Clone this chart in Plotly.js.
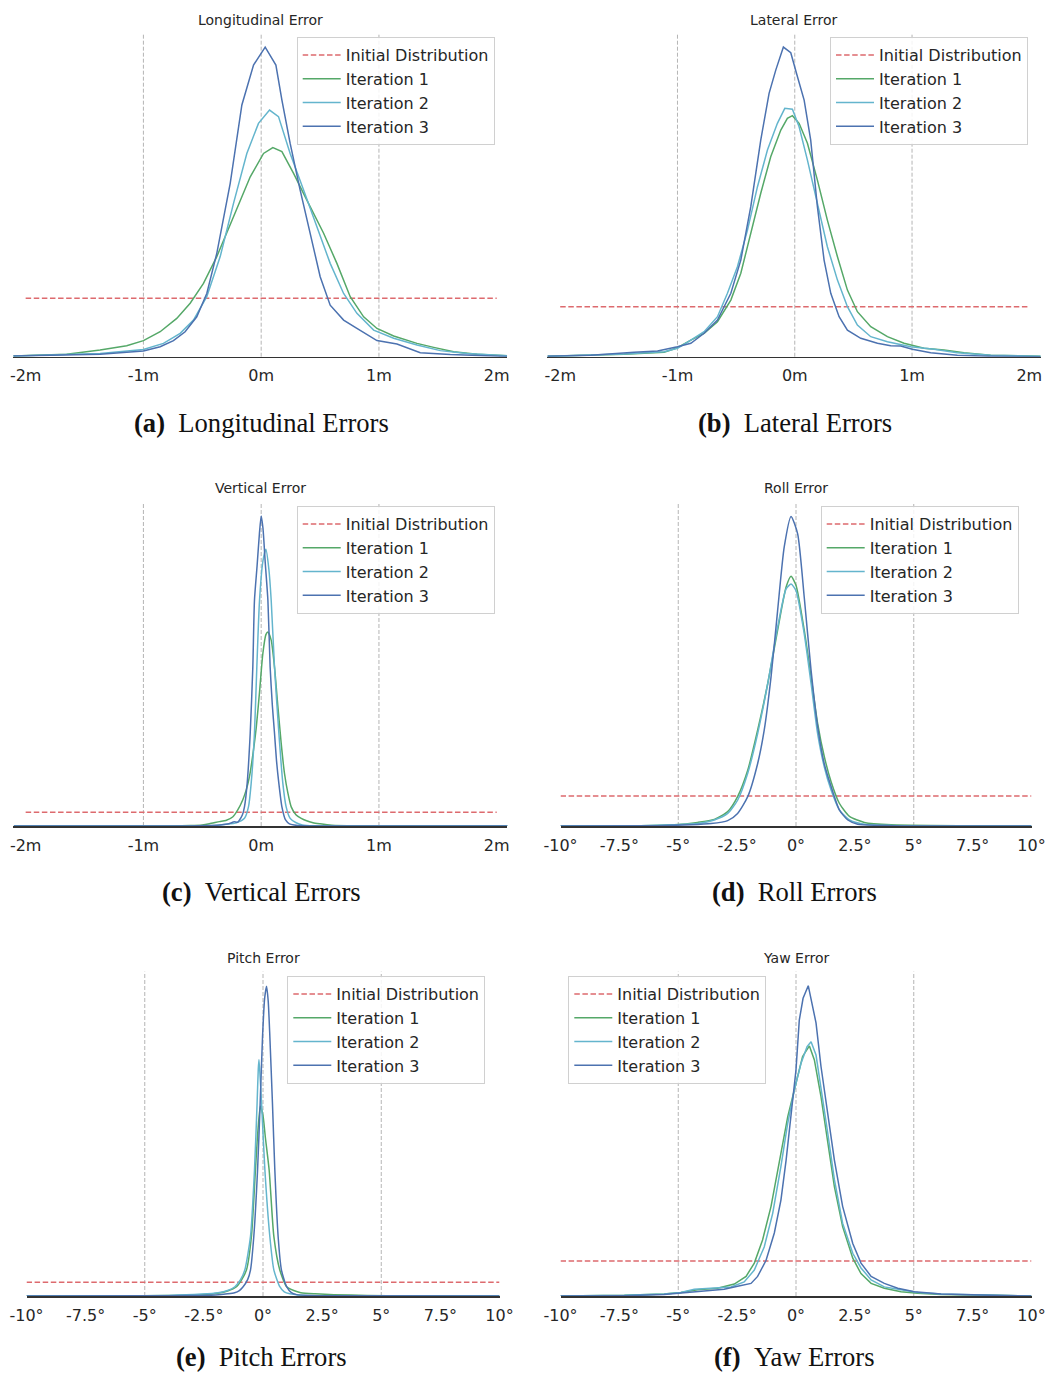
<!DOCTYPE html>
<html>
<head>
<meta charset="utf-8">
<script src="https://cdn.plot.ly/plotly-3.0.1.min.js"></script>
<style>
  html, body { margin: 0; padding: 0; background: #ffffff; }
  #chart { width: 1048px; height: 1374px; }
</style>
</head>
<body>
<div id="chart"></div>
<script>
// ---- tick labels ----
const tickValsM = [-2, -1, 0, 1, 2];
const tickTextM = ['-2m', '-1m', '0m', '1m', '2m'];
const tickValsDeg = [-10, -7.5, -5, -2.5, 0, 2.5, 5, 7.5, 10];
const tickTextDeg = ['-10°', '-7.5°', '-5°', '-2.5°', '0°', '2.5°', '5°', '7.5°', '10°'];
const guideM = [-1, 0, 1];
const guideDeg = [-5, 0, 5];

const seriesNames = ['Initial Distribution', 'Iteration 1', 'Iteration 2', 'Iteration 3'];

// Initial (uniform) distribution densities
const initXm = [-2, 2];
const initYm = [0.25, 0.25];
const initXdeg = [-10, 10];
const initYdeg = [0.05, 0.05];

// ---- Longitudinal error densities ----
const lonX1 = [-2.105, -1.652, -1.368, -1.142, -1.0, -0.858, -0.717, -0.603, -0.49, -0.377, -0.235, -0.093, 0.02, 0.099, 0.176, 0.275, 0.388, 0.53, 0.643, 0.756, 0.87, 0.983, 1.125, 1.323, 1.465, 1.635, 1.833, 2.088];
const lonY1 = [0.003, 0.011, 0.029, 0.047, 0.069, 0.107, 0.164, 0.229, 0.314, 0.429, 0.6, 0.771, 0.871, 0.896, 0.879, 0.786, 0.671, 0.529, 0.4, 0.257, 0.171, 0.121, 0.089, 0.057, 0.04, 0.021, 0.011, 0.004];
const lonX2 = [-2.105, -1.368, -1.0, -0.83, -0.688, -0.575, -0.462, -0.348, -0.235, -0.122, -0.023, 0.071, 0.147, 0.246, 0.36, 0.473, 0.586, 0.70, 0.813, 0.955, 1.125, 1.323, 1.521, 1.748, 2.088];
const lonY2 = [0.003, 0.014, 0.031, 0.057, 0.1, 0.157, 0.257, 0.429, 0.657, 0.871, 1.0, 1.057, 1.029, 0.871, 0.714, 0.557, 0.4, 0.271, 0.186, 0.114, 0.079, 0.05, 0.026, 0.014, 0.004];
const lonX3 = [-2.105, -1.652, -1.368, -1.0, -0.858, -0.745, -0.646, -0.547, -0.462, -0.377, -0.263, -0.164, -0.065, 0.034, 0.125, 0.176, 0.246, 0.331, 0.416, 0.501, 0.586, 0.70, 0.813, 0.983, 1.153, 1.351, 1.606, 2.088];
const lonY3 = [0.003, 0.007, 0.011, 0.024, 0.043, 0.069, 0.107, 0.171, 0.271, 0.443, 0.743, 1.079, 1.25, 1.327, 1.25, 1.1, 0.914, 0.714, 0.529, 0.343, 0.221, 0.157, 0.121, 0.069, 0.054, 0.017, 0.009, 0.001];

// ---- Lateral error densities ----
const latX1 = [-2.108, -1.455, -1.114, -1.0, -0.886, -0.773, -0.659, -0.545, -0.46, -0.375, -0.29, -0.205, -0.119, -0.063, -0.02, 0.037, 0.108, 0.193, 0.278, 0.364, 0.449, 0.534, 0.648, 0.79, 0.932, 1.102, 1.273, 1.443, 1.67, 2.097];
const latY1 = [0.002, 0.012, 0.022, 0.045, 0.083, 0.117, 0.175, 0.283, 0.417, 0.617, 0.817, 1.0, 1.133, 1.192, 1.205, 1.167, 1.067, 0.883, 0.683, 0.5, 0.333, 0.225, 0.15, 0.1, 0.067, 0.042, 0.033, 0.02, 0.007, 0.002];
const latX2 = [-2.108, -1.455, -1.114, -1.0, -0.886, -0.773, -0.659, -0.574, -0.489, -0.403, -0.318, -0.233, -0.148, -0.085, -0.02, 0.037, 0.108, 0.193, 0.278, 0.364, 0.449, 0.534, 0.648, 0.79, 0.989, 1.188, 1.386, 1.67, 2.097];
const latY2 = [0.002, 0.013, 0.025, 0.042, 0.083, 0.125, 0.2, 0.317, 0.45, 0.633, 0.85, 1.033, 1.167, 1.242, 1.237, 1.15, 0.983, 0.767, 0.55, 0.383, 0.25, 0.158, 0.1, 0.075, 0.05, 0.037, 0.02, 0.007, 0.002];
const latX3 = [-2.108, -1.739, -1.369, -1.17, -1.0, -0.886, -0.773, -0.659, -0.545, -0.46, -0.375, -0.29, -0.219, -0.162, -0.097, -0.034, 0.023, 0.08, 0.136, 0.193, 0.25, 0.307, 0.378, 0.449, 0.563, 0.705, 0.818, 0.903, 1.003, 1.159, 1.386, 1.67, 2.097];
const latY3 = [0.002, 0.007, 0.022, 0.028, 0.05, 0.067, 0.117, 0.183, 0.317, 0.483, 0.75, 1.083, 1.317, 1.433, 1.548, 1.52, 1.4, 1.283, 1.083, 0.75, 0.483, 0.317, 0.2, 0.133, 0.092, 0.067, 0.055, 0.053, 0.037, 0.02, 0.007, 0.002, 0.0];

// ---- Vertical error densities ----
const verX1 = [-2.1, -0.8, -0.6, -0.5, -0.44, -0.354, -0.3, -0.24, -0.2, -0.156, -0.127, -0.1, -0.071, -0.042, -0.014, 0.014, 0.04, 0.057, 0.085, 0.113, 0.142, 0.17, 0.198, 0.227, 0.255, 0.297, 0.34, 0.38, 0.44, 0.5, 0.6, 0.8, 2.1];
const verY1 = [0, 0.002, 0.008, 0.02, 0.04, 0.08, 0.1, 0.17, 0.29, 0.48, 0.66, 0.9, 1.3, 1.8, 2.45, 3.15, 3.5, 3.55, 3.4, 2.91, 2.18, 1.51, 0.96, 0.6, 0.35, 0.2, 0.14, 0.1, 0.06, 0.04, 0.015, 0.004, 0];
const verX2 = [-2.1, -0.6, -0.4, -0.3, -0.21, -0.142, -0.108, -0.085, -0.057, -0.037, -0.014, 0.015, 0.04, 0.065, 0.085, 0.113, 0.15, 0.184, 0.212, 0.246, 0.297, 0.35, 0.45, 2.1];
const verY2 = [0, 0.002, 0.01, 0.03, 0.06, 0.14, 0.35, 0.78, 1.7, 2.91, 4.13, 4.85, 5.06, 4.7, 4.13, 2.91, 1.7, 0.78, 0.35, 0.14, 0.06, 0.02, 0.005, 0];
const verX3 = [-2.1, -0.6, -0.45, -0.35, -0.3, -0.25, -0.23, -0.2, -0.184, -0.16, -0.142, -0.119, -0.093, -0.071, -0.057, -0.035, -0.015, 0.0, 0.015, 0.035, 0.057, 0.076, 0.095, 0.113, 0.13, 0.15, 0.176, 0.207, 0.24, 0.28, 0.35, 0.6, 2.1];
const verY3 = [0, 0.002, 0.01, 0.02, 0.03, 0.06, 0.08, 0.07, 0.11, 0.2, 0.35, 0.78, 1.7, 2.91, 4.13, 4.75, 5.35, 5.67, 5.45, 4.8, 4.13, 2.91, 2.2, 1.7, 1.2, 0.78, 0.35, 0.11, 0.04, 0.02, 0.005, 0, 0];

// ---- Roll error densities ----
const rolX1 = [-10, -6.59, -5.17, -4.18, -3.47, -2.9, -2.48, -2.05, -1.63, -1.2, -0.78, -0.42, -0.21, 0.0, 0.35, 0.64, 0.92, 1.2, 1.49, 1.84, 2.27, 2.9, 4.04, 10];
const rolY1 = [0, 0.0006, 0.002, 0.006, 0.011, 0.024, 0.049, 0.093, 0.16, 0.238, 0.327, 0.399, 0.417, 0.402, 0.327, 0.249, 0.171, 0.116, 0.074, 0.038, 0.016, 0.006, 0.002, 0];
const rolX2 = [-10, -6.59, -5.17, -4.18, -3.47, -2.9, -2.48, -2.05, -1.63, -1.2, -0.78, -0.42, -0.21, 0.0, 0.35, 0.64, 0.92, 1.2, 1.49, 1.84, 2.27, 2.9, 4.04, 10];
const rolY2 = [0, 0.0006, 0.002, 0.004, 0.01, 0.021, 0.043, 0.088, 0.154, 0.238, 0.332, 0.396, 0.404, 0.393, 0.321, 0.238, 0.154, 0.099, 0.06, 0.027, 0.01, 0.003, 0.001, 0];
const rolX3 = [-10, -5.88, -4.46, -3.61, -2.9, -2.48, -2.05, -1.63, -1.35, -1.06, -0.78, -0.5, -0.21, 0.07, 0.35, 0.64, 0.92, 1.2, 1.49, 1.84, 2.2, 2.62, 4.04, 10];
const rolY3 = [0, 0.0006, 0.002, 0.004, 0.009, 0.021, 0.049, 0.104, 0.16, 0.249, 0.36, 0.466, 0.517, 0.488, 0.382, 0.26, 0.166, 0.104, 0.066, 0.027, 0.01, 0.003, 0.0006, 0];

// ---- Pitch error densities ----
const pitX1 = [-10, -6, -4, -2.6, -1.9, -1.5, -1.12, -0.9, -0.7, -0.49, -0.32, -0.22, -0.11, 0.0, 0.1, 0.26, 0.46, 0.71, 1.0, 1.3, 1.6, 2.2, 3, 4.4, 6, 10];
const pitY1 = [0, 0.0005, 0.002, 0.005, 0.01, 0.018, 0.034, 0.06, 0.095, 0.217, 0.461, 0.6, 0.695, 0.66, 0.58, 0.461, 0.217, 0.095, 0.034, 0.02, 0.012, 0.008, 0.005, 0.002, 0.0005, 0];
const pitX2 = [-10, -6, -4, -2.6, -1.9, -1.5, -1.19, -0.95, -0.77, -0.53, -0.36, -0.25, -0.2, -0.17, -0.12, -0.06, 0.08, 0.29, 0.46, 0.71, 0.9, 1.14, 1.5, 2.5, 10];
const pitY2 = [0, 0.0005, 0.002, 0.007, 0.012, 0.02, 0.034, 0.06, 0.095, 0.217, 0.461, 0.705, 0.83, 0.866, 0.8, 0.705, 0.461, 0.217, 0.095, 0.034, 0.015, 0.008, 0.004, 0.001, 0];
const pitX3 = [-10, -5, -3, -2, -1.5, -1.2, -1.0, -0.84, -0.65, -0.53, -0.39, -0.23, -0.12, -0.02, 0.07, 0.15, 0.22, 0.29, 0.4, 0.5, 0.64, 0.78, 1.0, 1.2, 1.42, 2, 3, 10];
const pitY3 = [0, 0.0005, 0.002, 0.004, 0.008, 0.012, 0.02, 0.034, 0.06, 0.095, 0.217, 0.461, 0.705, 0.949, 1.09, 1.134, 1.08, 0.949, 0.705, 0.461, 0.217, 0.095, 0.034, 0.012, 0.005, 0.002, 0.0005, 0];

// ---- Yaw error densities ----
const yawX1 = [-10, -7.29, -5.6, -4.89, -4.18, -3.33, -2.62, -2.12, -1.77, -1.42, -1.06, -0.71, -0.35, 0.0, 0.28, 0.57, 0.78, 1.06, 1.35, 1.63, 1.98, 2.41, 2.76, 3.19, 3.75, 4.46, 5.17, 6.16, 8.29, 10];
const yawY1 = [0, 0.001, 0.003, 0.005, 0.009, 0.011, 0.017, 0.028, 0.047, 0.08, 0.128, 0.194, 0.256, 0.304, 0.342, 0.357, 0.337, 0.285, 0.218, 0.156, 0.099, 0.054, 0.032, 0.018, 0.011, 0.006, 0.004, 0.002, 0.001, 0];
const yawX2 = [-10, -7.29, -5.6, -4.89, -4.32, -3.61, -2.76, -2.2, -1.77, -1.35, -0.99, -0.64, -0.35, -0.07, 0.21, 0.47, 0.64, 0.85, 1.06, 1.35, 1.63, 1.98, 2.41, 2.76, 3.19, 3.75, 4.46, 5.17, 6.16, 8.29, 10];
const yawY2 = [0, 0.001, 0.003, 0.005, 0.0095, 0.011, 0.013, 0.02, 0.037, 0.07, 0.118, 0.185, 0.247, 0.294, 0.332, 0.356, 0.363, 0.344, 0.299, 0.232, 0.166, 0.104, 0.061, 0.04, 0.023, 0.013, 0.009, 0.005, 0.003, 0.001, 0];
const yawX3 = [-10, -7.29, -5.6, -4.89, -4.18, -3.05, -2.48, -1.91, -1.63, -1.27, -0.92, -0.64, -0.42, -0.21, 0.0, 0.14, 0.3, 0.52, 0.85, 1.06, 1.35, 1.63, 1.98, 2.41, 2.76, 3.19, 3.75, 4.32, 5.03, 6.16, 8.29, 10];
const yawY3 = [0, 0.0005, 0.002, 0.004, 0.007, 0.0095, 0.014, 0.018, 0.028, 0.051, 0.09, 0.137, 0.194, 0.261, 0.323, 0.394, 0.425, 0.443, 0.39, 0.328, 0.261, 0.194, 0.128, 0.075, 0.047, 0.028, 0.018, 0.011, 0.006, 0.003, 0.001, 0];

// ---- page geometry (pixels) ----
const W = 1048, H = 1374;
const colors = { init: '#dd6a6e', it1: '#55a868', it2: '#64b5cd', it3: '#4c72b0' };
const sans = 'DejaVu Sans, Verdana, sans-serif';
const serif = 'Liberation Serif, Times New Roman, serif';

const panels = [
  { tag: '(a)', title: 'Longitudinal Error', caption: 'Longitudinal Errors',
    curves: [[lonX1, lonY1], [lonX2, lonY2], [lonX3, lonY3]], init: [initXm, initYm],
    tv: tickValsM, tt: tickTextM, guides: guideM, xr: [-2.105, 2.09], yr: [0, 1.386],
    px: [13.3, 507.3], py: [33.3, 356.7], leg: [296.7, 37], titleY: 20, capY: 423, capX: 261, smooth: false },
  { tag: '(b)', title: 'Lateral Error', caption: 'Lateral Errors',
    curves: [[latX1, latY1], [latX2, latY2], [latX3, latY3]], init: [initXm, initYm],
    tv: tickValsM, tt: tickTextM, guides: guideM, xr: [-2.11, 2.097], yr: [0, 1.617],
    px: [547.3, 1040.7], py: [33.3, 356.7], leg: [830, 37], titleY: 20, capY: 423, capX: 794.5, smooth: false },
  { tag: '(c)', title: 'Vertical Error', caption: 'Vertical Errors',
    curves: [[verX1, verY1], [verX2, verY2], [verX3, verY3]], init: [initXm, initYm],
    tv: tickValsM, tt: tickTextM, guides: guideM, xr: [-2.105, 2.09], yr: [0, 5.92],
    px: [13.3, 507.3], py: [502.3, 826], leg: [296.7, 506], titleY: 488.3, capY: 891.7, capX: 261, smooth: true },
  { tag: '(d)', title: 'Roll Error', caption: 'Roll Errors',
    curves: [[rolX1, rolY1], [rolX2, rolY2], [rolX3, rolY3]], init: [initXdeg, initYdeg],
    tv: tickValsDeg, tt: tickTextDeg, guides: guideDeg, xr: [-10, 10], yr: [0, 0.5406],
    px: [560.5, 1031.5], py: [502.3, 826], leg: [820.7, 506], titleY: 488.3, capY: 891.7, capX: 794.5, smooth: true },
  { tag: '(e)', title: 'Pitch Error', caption: 'Pitch Errors',
    curves: [[pitX1, pitY1], [pitX2, pitY2], [pitX3, pitY3]], init: [initXdeg, initYdeg],
    tv: tickValsDeg, tt: tickTextDeg, guides: guideDeg, xr: [-10, 10], yr: [0, 1.187],
    px: [26.5, 499.5], py: [971.7, 1296], leg: [287.3, 976], titleY: 958.3, capY: 1356.5, capX: 261, smooth: true },
  { tag: '(f)', title: 'Yaw Error', caption: 'Yaw Errors',
    curves: [[yawX1, yawY1], [yawX2, yawY2], [yawX3, yawY3]], init: [initXdeg, initYdeg],
    tv: tickValsDeg, tt: tickTextDeg, guides: guideDeg, xr: [-10, 10], yr: [0, 0.463],
    px: [560.5, 1031.5], py: [971.7, 1296], leg: [568.3, 976], titleY: 958.3, capY: 1356.5, capX: 794.5, smooth: false }
];

const traces = [];
const layout = {
  width: W, height: H,
  margin: { l: 0, r: 0, t: 0, b: 0 },
  paper_bgcolor: '#ffffff', plot_bgcolor: '#ffffff',
  showlegend: true,
  shapes: [], annotations: []
};

panels.forEach((p, i) => {
  const s = i === 0 ? '' : String(i + 1);
  const xa = 'x' + s, ya = 'y' + s, lg = 'legend' + s;
  const lineShape = p.smooth ? 'spline' : 'linear';

  traces.push({
    type: 'scatter', mode: 'lines', x: p.init[0], y: p.init[1],
    name: seriesNames[0], xaxis: xa, yaxis: ya, legend: lg,
    line: { color: colors.init, width: 1.5, dash: '5.5px,2.6px' }, hoverinfo: 'skip'
  });
  [colors.it1, colors.it2, colors.it3].forEach((c, k) => {
    traces.push({
      type: 'scatter', mode: 'lines', x: p.curves[k][0], y: p.curves[k][1],
      name: seriesNames[k + 1], xaxis: xa, yaxis: ya, legend: lg,
      line: { color: c, width: 1.5, shape: lineShape, smoothing: 0.6 }, hoverinfo: 'skip'
    });
  });

  layout['xaxis' + s] = {
    domain: [p.px[0] / W, p.px[1] / W], range: p.xr, anchor: ya,
    showline: true, linecolor: '#333333', linewidth: 1.5, mirror: false,
    showgrid: false, zeroline: false, ticks: '',
    tickmode: 'array', tickvals: p.tv, ticktext: p.tt,
    tickfont: { family: sans, size: 16, color: '#262626' },
    ticklabelstandoff: 4, fixedrange: true
  };
  layout['yaxis' + s] = {
    domain: [1 - p.py[1] / H, 1 - p.py[0] / H], range: p.yr, anchor: xa,
    visible: false, showgrid: false, zeroline: false, fixedrange: true
  };

  layout[lg] = {
    x: p.leg[0] / W, y: 1 - p.leg[1] / H, xanchor: 'left', yanchor: 'top',
    xref: 'paper', yref: 'paper',
    bgcolor: 'rgba(255,255,255,0.85)', bordercolor: '#d0d0d0', borderwidth: 1,
    font: { family: sans, size: 16, color: '#262626' },
    itemwidth: 38, tracegroupgap: 0
  };

  p.guides.forEach(v => {
    layout.shapes.push({
      type: 'line', xref: xa, yref: ya + ' domain', x0: v, x1: v, y0: 0, y1: 1,
      line: { color: '#b5b5b5', width: 1, dash: '4px,2px' }, layer: 'below'
    });
  });

  layout.annotations.push({
    xref: 'paper', yref: 'paper', x: (p.px[0] + p.px[1]) / 2 / W, y: 1 - p.titleY / H,
    xanchor: 'center', yanchor: 'middle', showarrow: false, text: p.title,
    font: { family: sans, size: 14, color: '#262626' }
  });
  layout.annotations.push({
    xref: 'paper', yref: 'paper', x: p.capX / W, y: 1 - p.capY / H,
    xanchor: 'center', yanchor: 'middle', showarrow: false,
    text: '<b>' + p.tag + '</b>\u2002' + p.caption,
    font: { family: serif, size: 26.6, color: '#111111' }
  });
});

Plotly.newPlot('chart', traces, layout, { staticPlot: true, displayModeBar: false });
</script>
</body>
</html>
